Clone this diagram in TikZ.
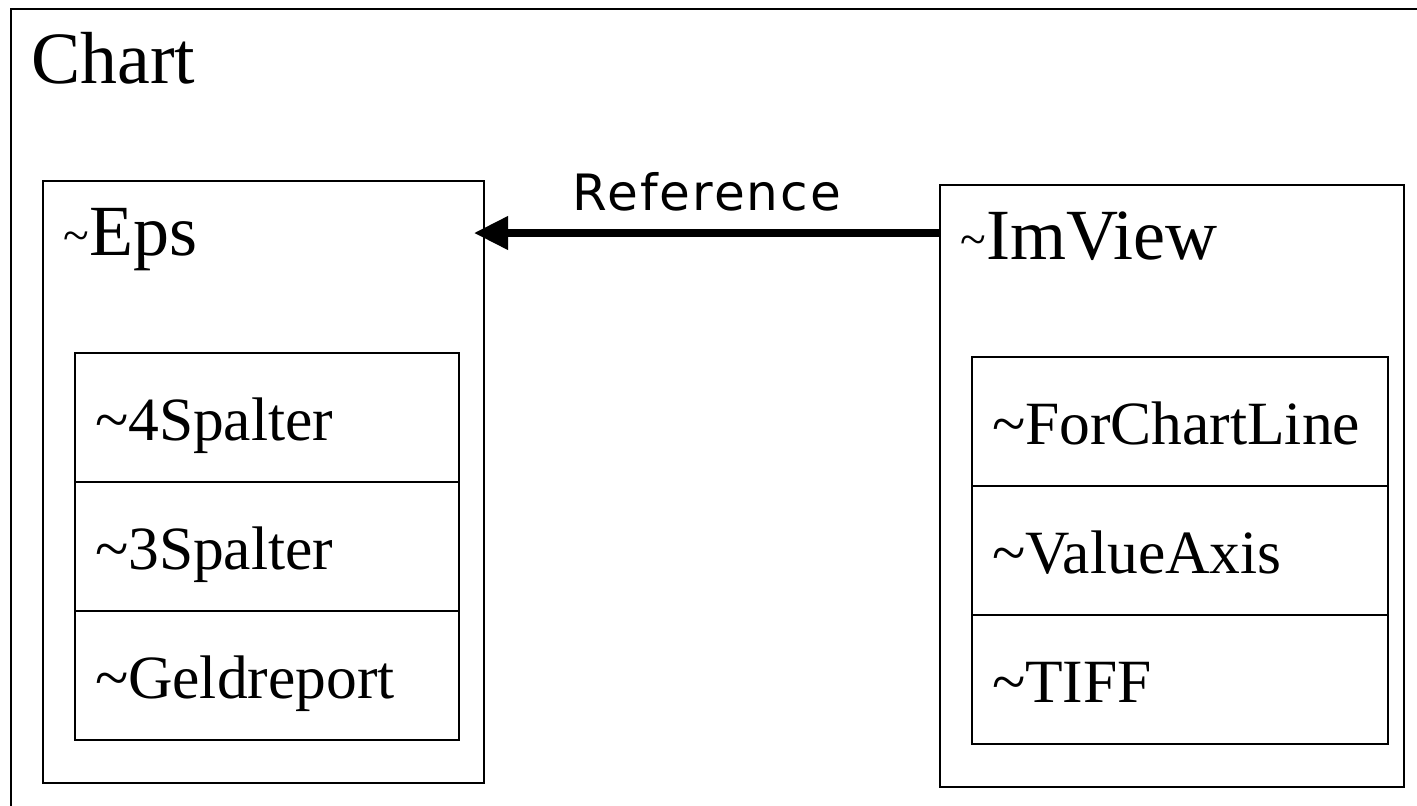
\documentclass[tikz,border=0pt]{standalone}
\usepackage{fontspec}
\setmainfont{Liberation Serif}
\newfontfamily\reffont{DejaVu Sans}[LetterSpace=4]
\usepackage{tikz}
\usetikzlibrary{arrows.meta,positioning}

\begin{document}
\begin{tikzpicture}[
  frame/.style={draw, line width=1.1pt, rectangle, outer sep=0pt},
  classbox/.style={frame, minimum width=#1, minimum height=12.04cm, anchor=north west},
  member/.style={frame, text width=#1, inner xsep=0.4cm, inner ysep=0pt, align=left, text height=1.74cm, text depth=0.84cm, font=\fontsize{35}{40}\selectfont},
  hdr/.style={anchor=base west, inner sep=0pt, font=\fontsize{41}{48}\selectfont}
  ]
\useasboundingbox (0cm,0cm) rectangle (28.34cm,-16.1cm);
\clip (0cm,0cm) rectangle (28.34cm,-16.1cm);

% Chart frame runs off the page on the right and at the bottom
\draw [line width=1.1pt] (0.22cm,-0.18cm) rectangle (30cm,-18cm);
\node [anchor=base west, inner sep=0pt, font=\fontsize{42}{50}\selectfont] (chart) at (0.62cm,-1.66cm) {Chart};

% Eps
\node [classbox=8.82cm] (eps) at (0.86cm,-3.62cm) {};
\node [hdr] (epsname) at ([xshift=0.4cm,yshift=-1.48cm]eps.north west) {\raisebox{0.08cm}{\fontsize{27}{30}\selectfont\textasciitilde}Eps};
\node [member=6.88cm, anchor=north west] (spalter4) at ([xshift=0.64cm,yshift=-3.44cm]eps.north west) {\textasciitilde 4Spalter};
\node [member=6.88cm, below=0cm of spalter4] (spalter3) {\textasciitilde 3Spalter};
\node [member=6.88cm, below=0cm of spalter3] (geld) {\textasciitilde Geldreport};

% ImView
\node [classbox=9.28cm] (imview) at (18.8cm,-3.7cm) {};
\node [hdr] (imviewname) at ([xshift=0.4cm,yshift=-1.48cm]imview.north west) {\raisebox{0.08cm}{\fontsize{27}{30}\selectfont\textasciitilde}ImView};
\node [member=7.52cm, anchor=north west] (chartline) at ([xshift=0.64cm,yshift=-3.44cm]imview.north west) {\textasciitilde ForChartLine};
\node [member=7.52cm, below=0cm of chartline] (valueaxis) {\textasciitilde ValueAxis};
\node [member=7.52cm, below=0cm of valueaxis] (tiff) {\textasciitilde TIFF};

% reference arrow
\coordinate (refstart) at ([yshift=-0.96cm]imview.north west);
\coordinate (epsedge) at (eps.east |- refstart);
\draw [-{Triangle[length=0.68cm,width=0.64cm]}, line width=4pt] (refstart) -- node [anchor=base, yshift=0.46cm, font=\reffont\fontsize{28.5}{32}\selectfont] (reflabel) {Reference} ([xshift=-0.2cm]epsedge);

\end{tikzpicture}
\end{document}
